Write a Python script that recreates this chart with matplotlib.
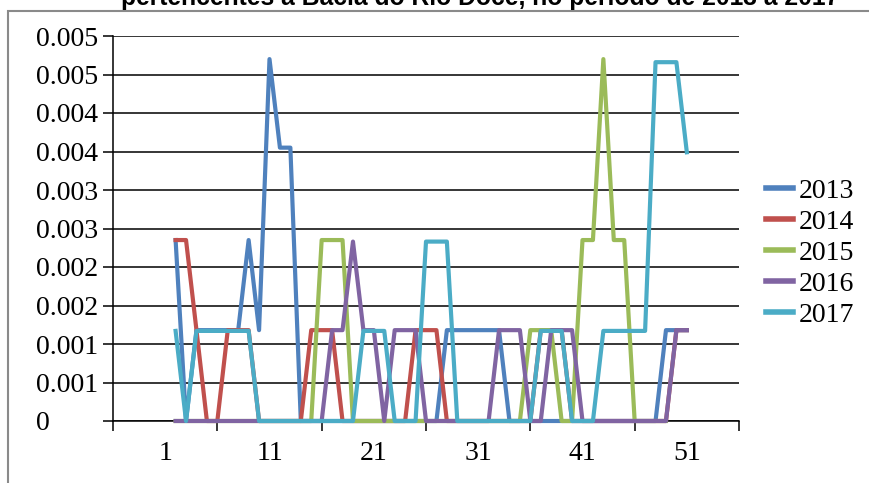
import matplotlib
matplotlib.use("Agg")
import matplotlib.pyplot as plt
from matplotlib.patches import Rectangle
from matplotlib.ticker import FixedLocator, NullFormatter, FixedFormatter

# ---------------- data ----------------
categories = list(range(2, 52))
NA = float("nan")

s2013 = [0.00235, 0, 0.00118, 0.00118, 0.00118, 0.00118, 0.00118, 0.00235, 0.00118, 0.0047,
         0.00355, 0.00355, 0, 0, 0, 0, 0, 0, 0, 0,
         0, 0, 0, 0, 0, 0, 0.00118, 0.00118, 0.00118, 0.00118,
         0.00118, 0.00118, 0, 0, 0, 0, 0, 0, 0, 0,
         0, 0, 0, 0, 0, 0, 0, 0.00118, 0.00118, 0.00118]

s2014 = [0.00235, 0.00235, 0.00118, 0, 0, 0.00118, 0.00118, 0.00118, 0, 0,
         0, 0, 0, 0.00118, 0.00118, 0.00118, 0, 0, 0, 0,
         0, 0, 0, 0.00118, 0.00118, 0.00118, 0, 0, 0, 0,
         0, 0, 0, 0, 0, 0.00118, 0.00118, 0.00118, 0, 0,
         0, 0, 0, 0, 0, 0, 0, 0, 0.00118, 0.00118]

s2015 = [0, 0, 0, 0, 0, 0, 0, 0, 0, 0,
         0, 0, 0, 0, 0.00235, 0.00235, 0.00235, 0, 0, 0,
         0, 0, 0, 0, 0, 0, 0, 0, 0, 0,
         0, 0, 0, 0, 0.00118, 0.00118, 0.00118, 0, 0, 0.00235,
         0.00235, 0.0047, 0.00235, 0.00235, 0, 0, 0, 0, NA, NA]

s2016 = [0, 0, 0, 0, 0, 0, 0, 0, 0, 0,
         0, 0, 0, 0, 0, 0.00118, 0.00118, 0.00233, 0.00118, 0.00118,
         0, 0.00118, 0.00118, 0.00118, 0, 0, 0, 0, 0, 0,
         0, 0.00118, 0.00118, 0.00118, 0, 0, 0.00118, 0.00118, 0.00118, 0,
         0, 0, 0, 0, 0, 0, 0, 0, 0.00118, 0.00118]

s2017 = [0.00117, 0, 0.00117, 0.00117, 0.00117, 0.00117, 0.00117, 0.00117, 0, 0,
         0, 0, 0, 0, 0, 0, 0, 0, 0.00117, 0.00117,
         0.00117, 0, 0, 0, 0.00233, 0.00233, 0.00233, 0, 0, 0,
         0, 0, 0, 0, 0, 0.00117, 0.00117, 0.00117, 0, 0,
         0, 0.00117, 0.00117, 0.00117, 0.00117, 0.00117, 0.00466, 0.00466, 0.00466, 0.00349]

series_names = ["2013", "2014", "2015", "2016", "2017"]
series_values = [s2013, s2014, s2015, s2016, s2017]
colors = ["#4F81BD", "#C0504D", "#9BBB59", "#8064A2", "#4BACC6"]

y_ticks = [0, 0.0005, 0.001, 0.0015, 0.002, 0.0025, 0.003, 0.0035, 0.004, 0.0045, 0.005]
y_tick_labels = ["0", "0.001", "0.001", "0.002", "0.002", "0.003", "0.003",
                 "0.004", "0.004", "0.005", "0.005"]
x_tick_marks = [-4, 6, 16, 26, 36, 46, 56]
x_label_pos = [1, 11, 21, 31, 41, 51]
x_tick_labels = ["1", "11", "21", "31", "41", "51"]

title = "pertencentes à Bacia do Rio Doce, no período de 2013 a 2017"

# ---------------- figure ----------------
W, H = 869, 483
fig = plt.figure(figsize=(W / 100, H / 100), dpi=100)
fig.patch.set_facecolor("white")

serif = "Liberation Serif"
fs = 20

# outer chart border (extends past the picture on the right and bottom)
fig.patches.append(Rectangle((8 / W, -0.1), 1.2, 1 - 11 / H + 0.1,
                             transform=fig.transFigure, fill=False,
                             edgecolor="#8a8a8a", linewidth=1.5))

fig.text(480 / W, 1 - 5 / H, title, ha="center", va="baseline",
         family="Liberation Sans", fontweight="bold", fontsize=17.7)

ax = fig.add_axes([113 / W, 1 - 421 / H, (739 - 113) / W, (421 - 36) / H])
ax.set_xlim(-4, 56)
ax.set_ylim(0, 0.005)

for name, vals, col in zip(series_names, series_values, colors):
    ax.plot(categories, vals, color=col, linewidth=3.0, label=name,
            solid_joinstyle="round", clip_on=False, zorder=3)

# axes styling
for sp in ["top", "right"]:
    ax.spines[sp].set_visible(False)
for sp in ["left", "bottom"]:
    ax.spines[sp].set_color("black")
    ax.spines[sp].set_linewidth(1.1)
    ax.spines[sp].set_zorder(2)

ax.yaxis.set_major_locator(FixedLocator(y_ticks))
ax.yaxis.set_major_formatter(FixedFormatter(y_tick_labels))
ax.tick_params(axis="y", which="major", direction="out", length=7.2, width=1.1,
               color="black", pad=48.3, labelsize=fs)
for lab in ax.get_yticklabels():
    lab.set_family(serif)
    lab.set_horizontalalignment("left")

ax.xaxis.set_major_locator(FixedLocator(x_tick_marks))
ax.xaxis.set_major_formatter(NullFormatter())
ax.xaxis.set_minor_locator(FixedLocator(x_label_pos))
ax.xaxis.set_minor_formatter(FixedFormatter(x_tick_labels))
ax.tick_params(axis="x", which="major", direction="out", length=7.2, width=1.1,
               color="black")
ax.tick_params(axis="x", which="minor", length=0, pad=14.5, labelsize=fs)
for lab in ax.get_xticklabels(minor=True):
    lab.set_family(serif)

ax.grid(axis="y", which="major", color="black", linewidth=1.1, zorder=1)
ax.set_axisbelow(True)

leg = ax.legend(loc="center left", bbox_to_anchor=(766 / W, 1 - 253 / H),
                bbox_transform=fig.transFigure, frameon=False, borderpad=0,
                borderaxespad=0, handlelength=0.97, handletextpad=0.22,
                labelspacing=0.2, prop={"family": serif, "size": fs})
for h in leg.get_lines():
    h.set_linewidth(4)

fig.savefig("out.png", dpi=100)
